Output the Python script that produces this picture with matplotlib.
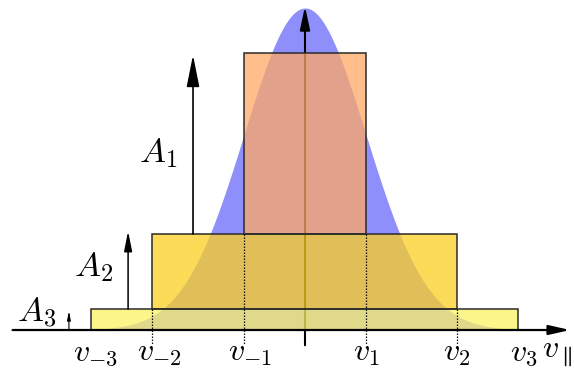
import numpy as np
import matplotlib
matplotlib.use("Agg")
import matplotlib.pyplot as plt
from matplotlib.patches import Rectangle, FancyArrowPatch

plt.rcParams['mathtext.fontset'] = 'cm'

# --- data ---
v_pos = [1.0, 2.5, 3.5]                 # v_1, v_2, v_3 (symmetric v_-k = -v_k)
A = [0.562, 0.233, 0.065]                # A_1, A_2, A_3 (stacked heights)
rect_colors = ['#ffa865', '#fcd022', '#fcf363']
tick_labels_neg = [r'$v_{-1}$', r'$v_{-2}$', r'$v_{-3}$']
tick_labels_pos = [r'$v_1$', r'$v_2$', r'$v_3$']
area_labels = [r'$A_1$', r'$A_2$', r'$A_3$']
sigma = 1.0

fig = plt.figure(figsize=(5.74, 3.74), dpi=100)
ax = fig.add_axes([0, 0, 1, 1])
ax.set_xlim(-5.0, 4.41)
ax.set_ylim(-0.1366, 1.0248)
ax.axis('off')

# gaussian
x = np.linspace(-4.8, 4.3, 800)
g = np.exp(-x**2 / (2 * sigma**2))
ax.fill_between(x, 0, g, color='#8f8ffb', lw=0, zorder=1)

# vertical axis (drawn under the rectangles)
ax.add_patch(FancyArrowPatch((0, -0.056), (0, 1.014), arrowstyle='-|>,head_length=1.4,head_width=0.3',
                             mutation_scale=10, lw=1.5, color='black', zorder=2))

# stacked rectangles: bottom A3 (widest), A2, top A1
bases = [A[2] + A[1], A[2], 0.0]
for k in range(3):
    w = v_pos[k]
    ax.add_patch(Rectangle((-w, bases[k]), 2 * w, A[k], facecolor=rect_colors[k],
                           alpha=0.75, edgecolor='none', zorder=3))
    ax.add_patch(Rectangle((-w, bases[k]), 2 * w, A[k], facecolor='none',
                           edgecolor='#2a2a2a', lw=1.1, zorder=4))

# dotted guide lines
for k in range(2):
    top = bases[k]
    for s in (-1, 1):
        ax.plot([s * v_pos[k], s * v_pos[k]], [top, -0.045], ls=(0, (1.2, 1.2)),
                color='#111111', lw=0.9, zorder=5)

# x axis
ax.add_patch(FancyArrowPatch((-4.84, 0), (4.39, 0), arrowstyle='-|>,head_length=1.4,head_width=0.32',
                             mutation_scale=9, lw=1.6, color='black', zorder=6))

# amplitude arrows
arrow_x = [-1.836, -2.90, -3.87]
arrow_tip = [0.854, 0.307, 0.059]
arrow_base = [A[2] + A[1], A[2], 0.0]
heads = [13, 8, 3.5]
widths = [1.2, 1.1, 0.8]
for k in range(3):
    ax.add_patch(FancyArrowPatch((arrow_x[k], arrow_base[k]), (arrow_x[k], arrow_tip[k]),
                                 arrowstyle='-|>,head_length=1.5,head_width=0.3',
                                 mutation_scale=heads[k], lw=widths[k], color='black',
                                 shrinkA=0, shrinkB=0, zorder=6))

# area labels
label_pos = [(-2.41, 0.55), (-3.46, 0.195), (-4.40, 0.055)]
for k in range(3):
    ax.text(label_pos[k][0], label_pos[k][1], area_labels[k], fontsize=25,
            ha='center', va='center', zorder=7)

# tick labels
neg_x = [-0.90, -2.385, -3.43]
pos_x = [1.0, 2.48, 3.58]
for k in range(3):
    ax.text(neg_x[k], -0.07, tick_labels_neg[k], fontsize=23, ha='center', va='center')
    ax.text(pos_x[k], -0.07, tick_labels_pos[k], fontsize=23, ha='center', va='center')
ax.text(4.14, -0.07, r'$v_{\parallel}$', fontsize=23, ha='center', va='center')

fig.savefig('out.png', dpi=100)
